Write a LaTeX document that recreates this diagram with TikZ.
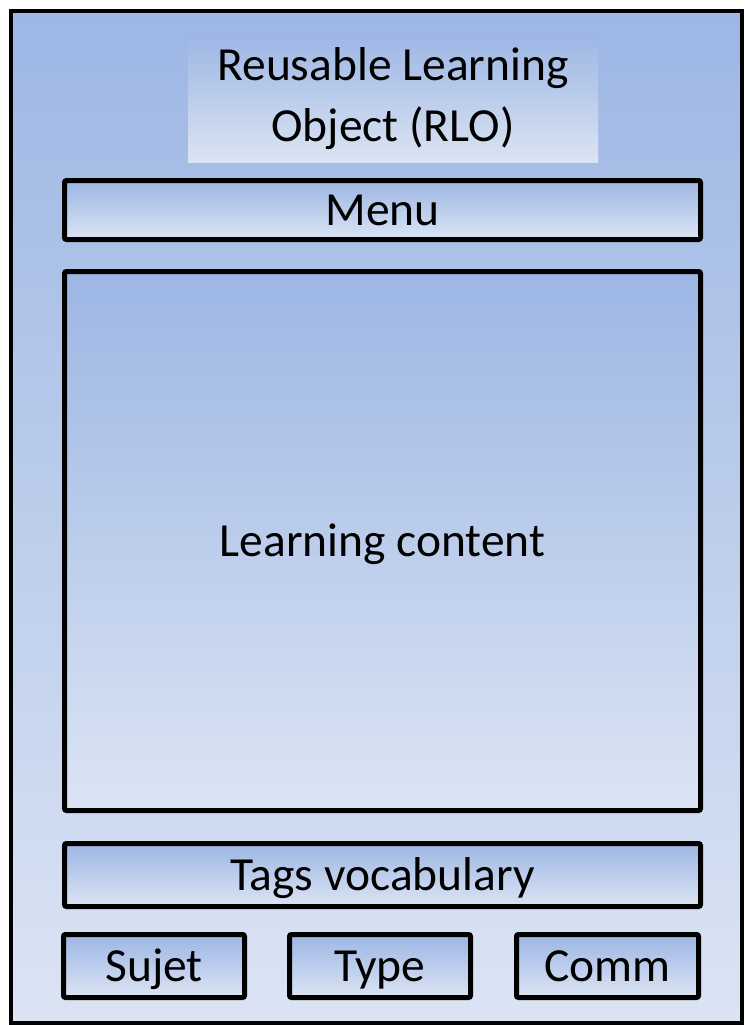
\documentclass[tikz,border=0pt]{standalone}
\usepackage{fontspec}
\setmainfont{Carlito}
\definecolor{rlodark}{RGB}{157,182,228}
\definecolor{rlolight}{RGB}{219,228,243}

\begin{document}
\begin{tikzpicture}%
    [x=1pt,
    y=-1pt,
    every node/.style={font=\fontsize{47.5}{61}\selectfont, inner sep=0pt},
    shadebox/.style={top color=rlodark, bottom color=rlolight},
    part/.style={shadebox, draw=black, line width=5pt, rounded corners=2pt,
                 text height=30.6pt, text depth=0pt}
    ]
    \useasboundingbox (0,0) rectangle (744,1025);
    \draw[shadebox, line width=4pt] (11,11) rectangle (741.5,1022.5);

    \node[shadebox, minimum width=410pt, minimum height=127pt, align=center]
        (title) at (393,98.5) {\raisebox{-2pt}{Reusable Learning}\\\raisebox{-2pt}{Object (RLO)}};
    \node[part, minimum width=636pt, minimum height=59pt]  (menu)    at (382.5,210) {Menu};
    \node[part, minimum width=636pt, minimum height=539pt] (content) at (382.5,541) {Learning content};
    \node[part, minimum width=636pt, minimum height=63pt]  (tags)    at (382.5,875) {Tags vocabulary};

    % tag boxes
    \node[part, minimum width=181pt, minimum height=63pt] (sujet) at (154,966)   {Sujet};
    \node[part, minimum width=181pt, minimum height=63pt] (type)  at (380,966)   {Type};
    \node[part, minimum width=182pt, minimum height=63pt] (comm)  at (607.5,966) {Comm};
\end{tikzpicture}
\end{document}
